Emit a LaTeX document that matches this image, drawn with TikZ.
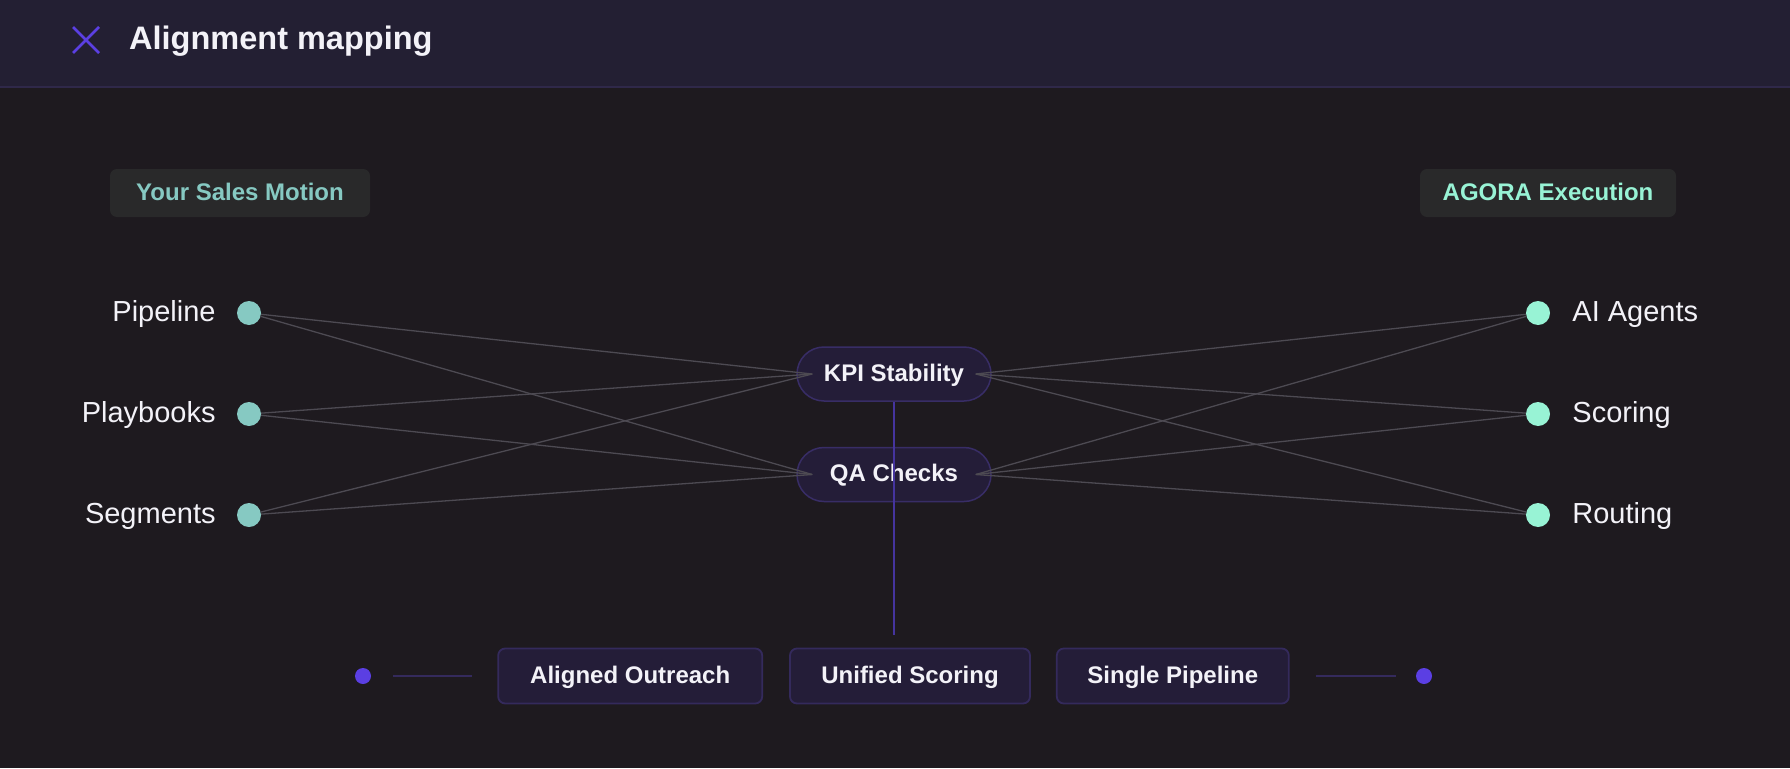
\documentclass[tikz,border=0pt]{standalone}
\usepackage{fontspec}
\setmainfont{Liberation Sans}
\usepackage{tikz}
\usetikzlibrary{positioning}
\definecolor{page-bg}{HTML}{1E1A1F}
\definecolor{head-bg}{HTML}{231F33}
\definecolor{head-rule}{HTML}{2F2849}
\definecolor{accent}{HTML}{5B3FE3}
\definecolor{motion-teal}{HTML}{86C9C2}
\definecolor{agora-mint}{HTML}{98F3D5}
\definecolor{badge-bg}{HTML}{29292A}
\definecolor{link-grey}{HTML}{4D4A52}
\definecolor{pill-bg}{HTML}{241D38}
\definecolor{pill-rule}{HTML}{382D66}
\definecolor{stem}{HTML}{45349E}
\definecolor{out-rule}{HTML}{342A5C}
\definecolor{soft-white}{HTML}{F3F2F8}
\tikzset{
    side-badge/.style = {fill=badge-bg, rounded corners=7pt, minimum height=48pt, inner sep=0pt, font=\fontsize{24}{28}\selectfont\bfseries, text height=17.5pt, text depth=3.5pt},
    dot-left/.style = {circle, fill=motion-teal, minimum size=24pt, inner sep=0pt},
    dot-right/.style = {circle, fill=agora-mint, minimum size=24pt, inner sep=0pt},
    item-label/.style = {inner sep=0pt, text=soft-white, font=\fontsize{29}{33}\selectfont, text height=21pt, text depth=4pt},
    map-pill/.style = {draw=pill-rule, fill=pill-bg, line width=1.5pt, rounded corners=27pt, minimum width=194pt, minimum height=54pt, inner sep=0pt, text=soft-white, font=\fontsize{24}{28}\selectfont\bfseries, text height=17.5pt, text depth=3.5pt},
    outcome-box/.style = {draw=out-rule, fill=pill-bg, line width=1.8pt, rounded corners=7pt, minimum height=55pt, inner sep=0pt, text=soft-white, font=\fontsize{24}{28}\selectfont\bfseries, text height=17.5pt, text depth=3.5pt},
    link/.style = {draw=link-grey, line width=1.3pt},
    end-dot/.style = {circle, fill=accent, minimum size=16pt, inner sep=0pt},
}

\begin{document}
\begin{tikzpicture}[x=1pt, y=-1pt]
\useasboundingbox (0,0) rectangle (1790,768);
\fill[page-bg] (0,0) rectangle (1790,768);
% header bar
\fill[head-bg] (0,0) rectangle (1790,87);
\draw[head-rule, line width=2pt] (0,87) -- (1790,87);
\coordinate (close) at (86,40);
\draw[accent, line width=2.5pt] ([shift={(-13pt,13pt)}]close) -- ([shift={(13pt,-13pt)}]close)
    ([shift={(-13pt,-13pt)}]close) -- ([shift={(13pt,13pt)}]close);
\node[anchor=west, inner sep=0pt, text=soft-white, font=\fontsize{32.5}{36}\selectfont\bfseries, text height=23.5pt, text depth=4.5pt] (title) at (129,40) {Alignment mapping};

% column headings
\node[side-badge, minimum width=260pt, text=motion-teal] (motion) at (240,193) {Your Sales Motion};
\node[side-badge, minimum width=256pt, text=agora-mint] (agora) at (1548,193) {AGORA Execution};

% middle pills
\node[map-pill] (kpi) at (894,374) {KPI Stability};
\node[map-pill] (qa) at (894,474.5) {QA Checks};
\coordinate (kpi-in) at ([xshift=16pt]kpi.west);
\coordinate (kpi-out) at ([xshift=-16pt]kpi.east);
\coordinate (qa-in) at ([xshift=16pt]qa.west);
\coordinate (qa-out) at ([xshift=-16pt]qa.east);

% left side
\node[dot-left] (pipe) at (249,313) {};
\node[dot-left] (play) at (249,414) {};
\node[dot-left] (segm) at (249,515) {};
\node[item-label, left=21pt of pipe] (pipe-lbl) {Pipeline};
\node[item-label, left=21pt of play] (play-lbl) {Playbooks};
\node[item-label, left=21pt of segm] (segm-lbl) {Segments};

% right side
\node[dot-right] (agents) at (1538,313) {};
\node[dot-right] (score) at (1538,414) {};
\node[dot-right] (route) at (1538,515) {};
\node[item-label, right=22pt of agents] (agents-lbl) {AI Agents};
\node[item-label, right=22pt of score] (score-lbl) {Scoring};
\node[item-label, right=22pt of route] (route-lbl) {Routing};

% links
\foreach \src in {pipe, play, segm}
    \draw[link] (\src) -- (kpi-in) (\src) -- (qa-in);
\foreach \dst in {agents, score, route}
    \draw[link] (kpi-out) -- (\dst) (qa-out) -- (\dst);

% outcomes
\coordinate (stem-end) at (894,635);
\draw[stem, line width=1.5pt] (kpi.south) -- (stem-end);
\node[outcome-box, minimum width=240pt] (unified) at (910,676) {Unified Scoring};
\node[outcome-box, minimum width=264pt, left=26pt of unified] (aligned) {Aligned Outreach};
\node[outcome-box, minimum width=232pt, right=25pt of unified] (single) {Single Pipeline};
\coordinate[left=25pt of aligned] (rail-l2);
\coordinate[left=79pt of rail-l2] (rail-l1);
\coordinate[right=26pt of single] (rail-r1);
\coordinate[right=80pt of rail-r1] (rail-r2);
\draw[out-rule, line width=1.5pt] (rail-l1) -- (rail-l2) (rail-r1) -- (rail-r2);
\node[end-dot] (end-l) at (363,676) {};
\node[end-dot] (end-r) at (1424,676) {};
\end{tikzpicture}
\end{document}
